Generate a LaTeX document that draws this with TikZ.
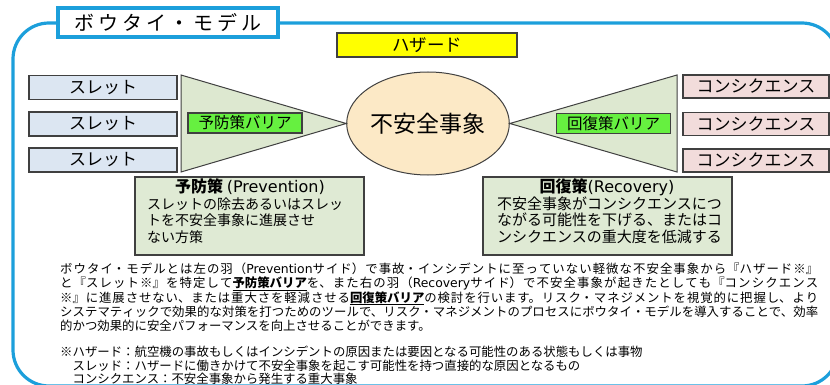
\documentclass[tikz,border=0pt]{standalone}
\usepackage{fontspec}
\setmainfont{Noto Sans CJK JP}
\newfontfamily\latfont{DejaVu Sans}
\newcommand\lat[1]{{\latfont #1}}
\usetikzlibrary{shapes.geometric}
\XeTeXlinebreaklocale "ja"
\XeTeXlinebreakskip=0pt plus 3pt minus 0.4pt
\newcommand\spreadtxt[1]{\spreadaux#1\relax\kern-3.8pt}
\def\spreadaux#1{\ifx\relax#1\else#1\kern3.8pt\expandafter\spreadaux\fi}
\newcommand\jline[1]{\parbox[b]{758pt}{\tolerance=10000\hbadness=10000\parfillskip=0pt\relax #1}}
\definecolor{frameblue}{HTML}{1C9FDB}
\definecolor{edgegray}{HTML}{404040}
\definecolor{sletblue}{HTML}{DCE6F2}
\definecolor{conspink}{HTML}{F2DCDB}
\definecolor{winggreen}{HTML}{DDE8D0}
\definecolor{descgreen}{HTML}{DFEAD4}
\definecolor{barriergreen}{HTML}{66F040}
\definecolor{eventpeach}{HTML}{FCE9C6}
\definecolor{hazyellow}{HTML}{FFFF00}
\tikzset{
  frame/.style={draw=frameblue, line width=3.2pt, rounded corners=36pt},
  titlebox/.style={draw=frameblue, line width=3.2pt, fill=white, minimum width=220pt, minimum height=29pt, inner sep=0pt, font=\fontsize{20}{24}\selectfont},
  boxbase/.style={draw=edgegray, line width=1.1pt, inner sep=0pt},
  hazard/.style={boxbase, fill=hazyellow, minimum width=180pt, minimum height=24pt, font=\fontsize{17.5}{20}\selectfont},
  slet/.style={boxbase, fill=sletblue, minimum width=148pt, minimum height=24pt, font=\fontsize{17}{20}\selectfont},
  cons/.style={boxbase, fill=conspink, minimum width=146pt, minimum height=23pt, font=\fontsize{17}{20}\selectfont},
  barrier/.style={boxbase, fill=barriergreen, minimum width=114pt, minimum height=20pt, font=\fontsize{15.5}{18}\selectfont},
  event/.style={ellipse, draw=edgegray, line width=1pt, fill=eventpeach, minimum width=160pt, minimum height=103pt, inner sep=0pt, font=\fontsize{23}{26}\selectfont},
  wing/.style={draw=edgegray, line width=1pt, fill=winggreen, line join=miter},
  descbox/.style={boxbase, fill=descgreen},
  deschead/.style={inner sep=0pt, anchor=base, font=\fontsize{16}{19}\selectfont},
  desctext/.style={inner sep=0pt, anchor=base west},
  para/.style={inner sep=0pt, anchor=base west, font=\fontsize{12.4}{14}\selectfont},
}
\begin{document}
\begin{tikzpicture}[x=1pt,y=-1pt]
\useasboundingbox (0,0) rectangle (830,385);
% outer frame
\draw[frame] (13,23) rectangle (838,386);
\node[titlebox] (title) at (168,22.5) {\spreadtxt{ボウタイ・モデル}};
% hazard
\node[hazard] (haz) at (427,45) {ハザード};
% threats
\node[slet] (s1) at (103,87.5) {スレット};
\node[slet] (s2) at (103,124) {スレット};
\node[slet] (s3) at (103,160) {スレット};
% top event
\node[event] (ev) at (428,123.5) {不安全事象};
% wings
\coordinate (lw1) at (181,75);
\coordinate (lw2) at (181,172);
\coordinate (rw1) at (677,75);
\coordinate (rw2) at (677,172);
\draw[wing] (lw1) -- (ev.west) -- (lw2) -- cycle;
\draw[wing] (rw1) -- (ev.east) -- (rw2) -- cycle;
% barriers
\node[barrier] (pb) at (245,123) {予防策バリア};
\node[barrier] (rb) at (613.5,123.5) {回復策バリア};
% consequences
\node[cons] (c1) at (756,86.5) {コンシクエンス};
\node[cons] (c2) at (756,124) {コンシクエンス};
\node[cons] (c3) at (756,160.5) {コンシクエンス};
% description boxes
\node[descbox, minimum width=229pt, minimum height=78pt] (pv) at (249.5,216) {};
\node[descbox, minimum width=249pt, minimum height=78pt] (rc) at (607.5,216) {};
\node[deschead] (pv0) at (250,193) {\textbf{予防策} \lat{(Prevention)}};
\node[desctext, font=\fontsize{14}{17}\selectfont] (pv1) at (147,209) {スレットの除去あるいはスレッ};
\node[desctext, font=\fontsize{14}{17}\selectfont] (pv2) at (147,225.5) {トを不安全事象に進展させ};
\node[desctext, font=\fontsize{14}{17}\selectfont] (pv3) at (147,242) {ない方策};
\node[deschead] (rc0) at (607,193) {\textbf{回復策}\lat{(Recovery)}};
\node[desctext, font=\fontsize{15}{18}\selectfont] (rc1) at (497,209) {不安全事象がコンシクエンスにつ};
\node[desctext, font=\fontsize{15}{18}\selectfont] (rc2) at (497,225.5) {ながる可能性を下げる、またはコ};
\node[desctext, font=\fontsize{15}{18}\selectfont] (rc3) at (497,242) {ンシクエンスの重大度を低減する};
% paragraph
\node[para] (p1) at (60,273.7) {\jline{ボウタイ・モデルとは左の羽（\lat{Prevention}サイド）で事故・インシデントに至っていない軽微な不安全事象から『ハザード※』}};
\node[para] (p2) at (60,287.9) {\jline{と『スレット※』を特定して\underline{\textbf{予防策バリア}}を、また右の羽（\lat{Recovery}サイド）で不安全事象が起きたとしても『コンシクエンス}};
\node[para] (p3) at (60,302.1) {\jline{※』に進展させない、または重大さを軽減させる\underline{\textbf{回復策バリア}}の検討を行います。リスク・マネジメントを視覚的に把握し、より}};
\node[para] (p4) at (60,316.3) {\jline{システマティックで効果的な対策を打つためのツールで、リスク・マネジメントのプロセスにボウタイ・モデルを導入することで、効率}};
\node[para] (p5) at (60,330.5) {的かつ効果的に安全パフォーマンスを向上させることができます。};
% footnotes
\node[para] (f1) at (60,356.7) {※ハザード：航空機の事故もしくはインシデントの原因または要因となる可能性のある状態もしくは事物};
\node[para] (f2) at (60,370.2) {　スレッド：ハザードに働きかけて不安全事象を起こす可能性を持つ直接的な原因となるもの};
\node[para] (f3) at (60,383.5) {　コンシクエンス：不安全事象から発生する重大事象};
\end{tikzpicture}
\end{document}
